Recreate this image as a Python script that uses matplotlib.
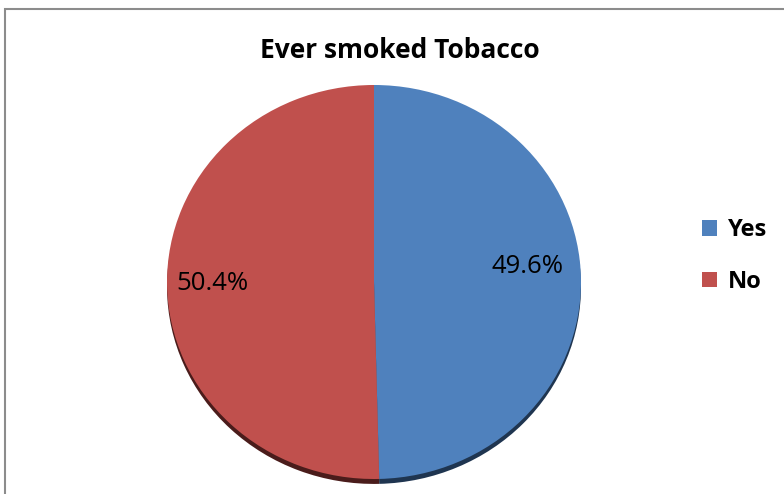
import matplotlib.pyplot as plt
from matplotlib.patches import Rectangle, Patch

labels = ["Yes", "No"]
shares = [49.6, 50.4]
colors = ["#4f81bd", "#c0504d"]
shadow_colors = ["#1f3550", "#4a1c1b"]
title = "Ever smoked Tobacco"

W, H = 784, 494
fig = plt.figure(figsize=(W / 100, H / 100), dpi=100)

# outer chart frame
fig.patches.append(Rectangle((5 / W, -0.05), 1.1, 1 - 9 / H + 0.05,
                             transform=fig.transFigure, fill=False,
                             edgecolor="#8c8c8c", linewidth=1.5))

# pie area (slightly squashed like the original)
cx, cy, rx, ry = 374, 282, 207, 197
ax = fig.add_axes([(cx - rx) / W, (H - cy - ry) / H, 2 * rx / W, 2 * ry / H])

# depth shadow underneath
ax.pie(shares, colors=shadow_colors, startangle=90, counterclock=False,
       center=(0, -0.025), radius=1.0, frame=True)
wedges, texts, autotexts = ax.pie(
    shares, colors=colors, startangle=90, counterclock=False,
    autopct="%.1f%%", pctdistance=0.75, radius=1.0, frame=True,
    textprops=dict(fontsize=18.5, family="Open Sans", color="black"))
# excel-style label placement
autotexts[0].set_position((0.74, 0.08))
autotexts[1].set_position((-0.78, -0.01))
ax.set_xlim(-1, 1)
ax.set_ylim(-1, 1)
ax.set_aspect("auto")
ax.axis("off")

fig.text(400 / W, 1 - 51 / H, title, ha="center", va="center",
         fontsize=19, fontweight="bold", family="Open Sans")

handles = [Patch(facecolor=c, edgecolor="none") for c in colors]
fig.legend(handles, labels, loc="center left", bbox_to_anchor=(681 / W, 1 - 256 / H),
           frameon=False, prop=dict(size=17, weight="bold", family="Open Sans"),
           handlelength=0.62, handleheight=0.62, handletextpad=0.45, labelspacing=1.15)

fig.savefig("out.png", dpi=100)
